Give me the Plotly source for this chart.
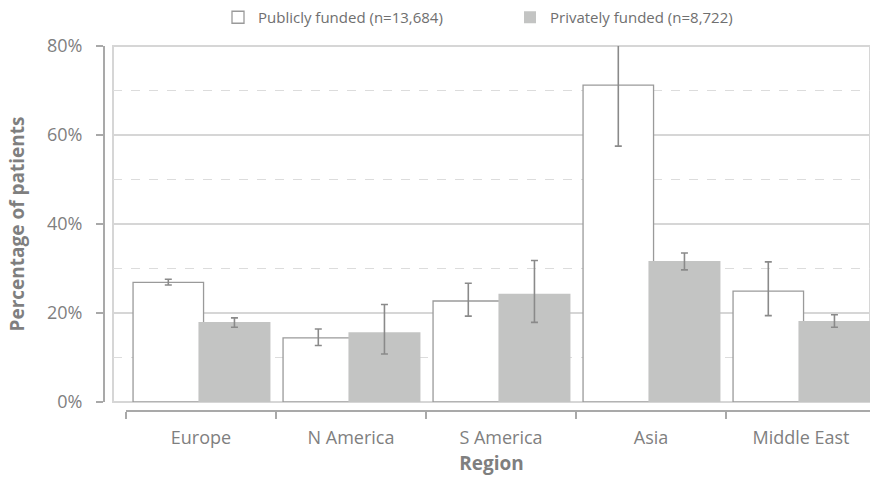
import plotly.graph_objects as go

regions = ["Europe", "N America", "S America", "Asia", "Middle East"]

public_pct = [26.9, 14.4, 22.7, 71.2, 24.9]
public_err_plus = [0.7, 2.0, 4.0, 9.3, 6.6]
public_err_minus = [0.6, 1.7, 3.4, 13.7, 5.5]

private_pct = [18.0, 15.7, 24.3, 31.7, 18.2]
private_err_plus = [0.9, 6.2, 7.5, 1.8, 1.4]
private_err_minus = [1.2, 4.9, 6.4, 2.0, 1.4]

y_ticks = [0, 20, 40, 60, 80]
y_tick_text = [f"{v}%" for v in y_ticks]

legend_public = "Publicly funded (n=13,684)"
legend_private = "Privately funded (n=8,722)"

FONT = "Open Sans"
TXT = "#7f7f7f"
AXIS = "#a9a9a9"
GRID = "#d6d6d6"
ERR = "#8a8a8a"

fig = go.Figure()

fig.add_trace(go.Bar(
    x=regions, y=public_pct, name=legend_public,
    marker=dict(color="white", line=dict(color="#9a9a9a", width=1.3)),
    offset=-0.453, width=0.47,
    error_y=dict(type="data", symmetric=False, array=public_err_plus,
                 arrayminus=public_err_minus, color=ERR, thickness=1.6, width=3.5),
))
fig.add_trace(go.Bar(
    x=regions, y=private_pct, name=legend_private,
    marker=dict(color="#c3c4c3", line=dict(width=0)),
    offset=-0.017, width=0.48,
    error_y=dict(type="data", symmetric=False, array=private_err_plus,
                 arrayminus=private_err_minus, color=ERR, thickness=1.6, width=3.5),
))

W, H = 870, 477
ml, mr, mt, mb = 104, 0, 46, 66
pw, ph = W - ml - mr, H - mt - mb

fig.update_layout(
    width=W, height=H,
    margin=dict(l=ml, r=mr, t=mt, b=mb),
    barmode="overlay",
    plot_bgcolor="white", paper_bgcolor="white",
    font=dict(family=FONT, color=TXT),
    legend=dict(orientation="h", xref="container", yref="container",
                x=218 / W, xanchor="left", y=1 - 1 / H, yanchor="top",
                entrywidth=247, entrywidthmode="pixels",
                font=dict(size=15, color="#6f6f6f"),
                itemclick=False, bgcolor="rgba(0,0,0,0)"),
    xaxis=dict(
        type="category", domain=[9 / pw, 1], anchor="free", position=0,
        range=[-0.5 - 13 / 150, -0.5 + (W - 126) / 150],
        tickson="boundaries", ticks="outside", ticklen=7, tickwidth=2,
        tickcolor=AXIS, showgrid=False, showline=False, zeroline=False,
        ticklabelstandoff=14,
        tickfont=dict(size=18, color=TXT),
        title=dict(text="<b>Region</b>", font=dict(size=19, color=TXT), standoff=8),
    ),
    yaxis=dict(
        domain=[9 / ph, 1], anchor="free", position=0,
        range=[0, 80], tickvals=y_ticks, ticktext=y_tick_text,
        ticks="outside", ticklen=7, tickwidth=2, tickcolor=AXIS,
        ticklabelstandoff=10,
        showline=True, linecolor=AXIS, linewidth=2,
        showgrid=True, gridcolor=GRID, gridwidth=1.6, zeroline=False,
        minor=dict(dtick=10, tick0=0, showgrid=True, gridcolor="#dcdcdc",
                   griddash="dash", gridwidth=1.2, ticks=""),
        tickfont=dict(size=18, color=TXT),
        title=dict(text="<b>Percentage of patients</b>", font=dict(size=19, color=TXT),
                   standoff=16),
    ),
)

# plot frame and detached category baseline
fig.add_shape(type="rect", xref="x domain", yref="y domain", x0=0, x1=1, y0=0, y1=1,
              line=dict(color=GRID, width=2), layer="below")
fig.add_shape(type="line", xref="x", yref="paper", x0=-0.5, x1=4.6, y0=0, y1=0,
              line=dict(color=AXIS, width=2))

fig.write_html("out.html")
